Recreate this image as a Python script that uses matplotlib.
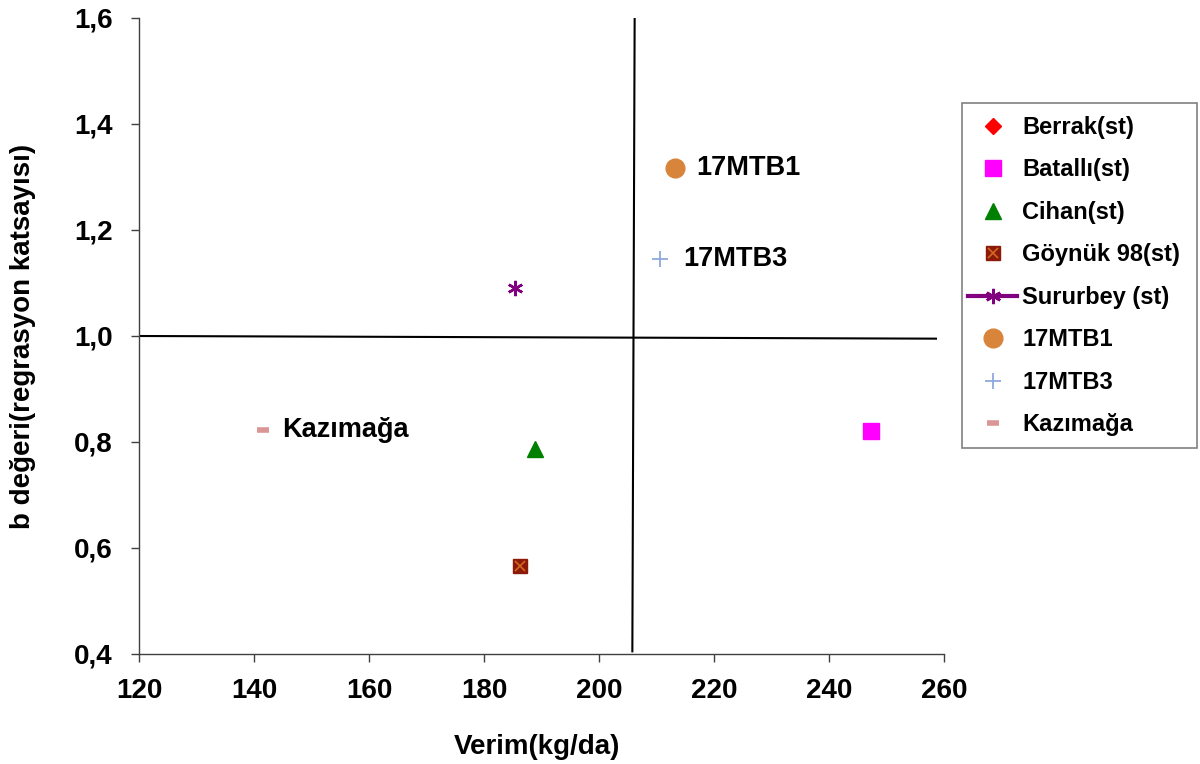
import matplotlib
matplotlib.use("Agg")
import matplotlib.pyplot as plt
from matplotlib.legend_handler import HandlerTuple
from matplotlib.patches import Rectangle

plt.rcParams['font.family'] = ['Liberation Sans', 'DejaVu Sans']
plt.rcParams['font.weight'] = 'bold'

# data
names = ["Berrak(st)", "Batallı(st)", "Cihan(st)", "Göynük 98(st)", "Sururbey (st)",
         "17MTB1", "17MTB3", "Kazımağa"]
verim = [247.3, 247.3, 188.9, 186.3, 185.4, 213.3, 210.6, 141.5]
b_deger = [0.821, 0.821, 0.787, 0.566, 1.091, 1.317, 1.145, 0.823]
labelled = ["17MTB1", "17MTB3", "Kazımağa"]
label_offsets = {"17MTB1": 15, "17MTB3": 17, "Kazımağa": 14}

ref_x = [206.2, 205.8]
ref_x_y = [1.6, 0.405]
ref_y_x = [120, 258.6]
ref_y = [1.0, 0.995]

x_ticks = [120, 140, 160, 180, 200, 220, 240, 260]
y_ticks = [0.4, 0.6, 0.8, 1.0, 1.2, 1.4, 1.6]

W, H = 1200, 764
fig = plt.figure(figsize=(12, 7.64), dpi=100)
ax = fig.add_axes([139/W, 1 - 654/H, 805/W, 636/H])

ax.plot(ref_x, ref_x_y, color='black', lw=1.5, zorder=1)
ax.plot(ref_y_x, ref_y, color='black', lw=1.5, zorder=1)

h = {}
h[0], = ax.plot(verim[0], b_deger[0], ls='none', marker='D', ms=8, color='#FF0000', mec='#FF0000', zorder=2)
h[1], = ax.plot(verim[1], b_deger[1], ls='none', marker='s', ms=11, color='#FF00FF', mec='#FF00FF', zorder=3)
h[2], = ax.plot(verim[2], b_deger[2], ls='none', marker='^', ms=11, color='#008000', mec='#008000', zorder=3)
g1, = ax.plot(verim[3], b_deger[3], ls='none', marker='s', ms=9.5, color='#8B1A0A', mec='#8B1A0A', zorder=3)
g2, = ax.plot(verim[3], b_deger[3], ls='none', marker='x', ms=7, mew=1.2, color='#D2691E', zorder=4)
h[3] = (g1, g2)
h[4], = ax.plot(verim[4], b_deger[4], ls='-', lw=3, marker=(6, 2, 0), ms=11, mew=1.8, color='#800080', zorder=3)
h[5], = ax.plot(verim[5], b_deger[5], ls='none', marker='o', ms=13.5, color='#D9843B', mec='#D9843B', zorder=3)
h[6], = ax.plot(verim[6], b_deger[6], ls='none', marker='+', ms=11, mew=1.3, color='#8EA9DB', zorder=3)
h[7], = ax.plot(verim[7], b_deger[7], ls='none', marker='_', ms=8, mew=4, color='#D99694', zorder=3)

for i, n in enumerate(names):
    if n in labelled:
        ax.annotate(n, (verim[i], b_deger[i]), xytext=(label_offsets[n], 0),
                    textcoords='offset points', va='center', ha='left',
                    fontsize=19.5, fontweight='bold')

ax.set_xlim(120, 260)
ax.set_ylim(0.4, 1.6)
ax.set_xticks(x_ticks)
ax.set_yticks(y_ticks)
ax.set_xticklabels([str(v) for v in x_ticks])
ax.set_yticklabels([f"{v:.1f}".replace('.', ',') for v in y_ticks])
ax.tick_params(axis='both', direction='out', length=6, width=1, color='#404040', labelsize=20)
ax.tick_params(axis='y', pad=13)
ax.tick_params(axis='x', pad=11)
for lab in ax.get_xticklabels() + ax.get_yticklabels():
    lab.set_fontweight('bold')
for s in ['top', 'right']:
    ax.spines[s].set_visible(False)
for s in ['left', 'bottom']:
    ax.spines[s].set_color('#404040')
    ax.spines[s].set_linewidth(1)

ax.set_xlabel("Verim(kg/da)", fontsize=20, fontweight='bold')
ax.set_ylabel("b değeri(regrasyon katsayısı)", fontsize=20, fontweight='bold')
ax.xaxis.set_label_coords(0.494, -0.125)
ax.yaxis.set_label_coords(-0.128, 0.5)

# legend frame
fig.patches.append(Rectangle((962/W, 1 - 448/H), (1197-962)/W, (448-103)/H,
                             transform=fig.transFigure, fill=False,
                             edgecolor='#808080', linewidth=1.2, zorder=5))

handles = [h[i] for i in range(8)]
leg = fig.legend(handles, names, loc='upper left', bbox_to_anchor=(968/W, 1 - 116/H),
                 prop={'family': 'Liberation Sans', 'weight': 'bold', 'size': 17},
                 frameon=False, labelspacing=0.825, handlelength=2.08, handletextpad=0.21,
                 borderpad=0, borderaxespad=0,
                 handler_map={tuple: HandlerTuple(ndivide=1)})

fig.savefig("out.png", dpi=100, facecolor='white')
